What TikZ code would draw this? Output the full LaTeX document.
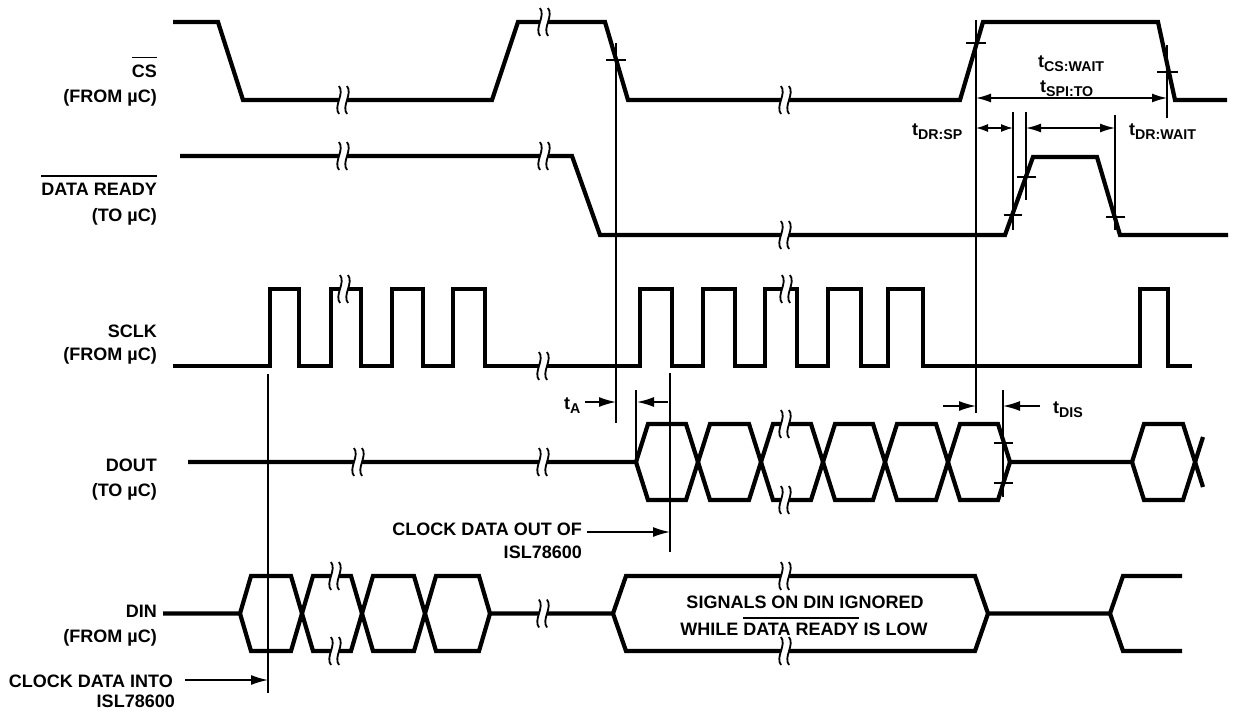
\documentclass[tikz,border=0pt]{standalone}
\usepackage{fontspec}
\setmainfont{Liberation Sans}
\usetikzlibrary{arrows.meta}
\newcommand\tsub[1]{t\raisebox{-4pt}{\fontsize{14.2}{15}\selectfont #1}}
\newcommand\ovl[2][6pt]{\vbox{\hrule height 1.8pt\kern#1\hbox{#2}}}
\begin{document}
\begin{tikzpicture}[x=1pt,y=-1pt,
  sig/.style={line width=4.2pt, line join=miter, miter limit=10},
  thinl/.style={line width=1.5pt},
  dimarrow/.style={line width=1.5pt, -{Latex[length=17pt,width=10pt]}},
  dimboth/.style={line width=1.5pt, {Latex[length=15pt,width=9pt]}-{Latex[length=15pt,width=9pt]}},
  dimshort/.style={line width=1.5pt, {Latex[length=12pt,width=8pt]}-{Latex[length=12pt,width=8pt]}},
  lbl/.style={font=\bfseries\fontsize{18}{20}\selectfont, inner sep=0pt},
  brk/.pic={
    \fill[white] (-4,-14) .. controls (2,-6) and (-10,6) .. (-4,14) -- (4,14) .. controls (-2,6) and (10,-6) .. (4,-14) -- cycle;
    \draw[line width=1.8pt] (-4,-14) .. controls (2,-6) and (-10,6) .. (-4,14);
    \draw[line width=1.8pt] (4,-14) .. controls (10,-6) and (-2,6) .. (4,14);
  }]
\useasboundingbox (0,0) rectangle (1235,710);

% ---------- CS ----------
\draw[sig] (173,22) -- (218,22) -- (243,100) -- (492,100) -- (518,22) -- (605,22) -- (628,100) -- (960,100) -- (983,22) -- (1158,22) -- (1175,100) -- (1227,100);
\pic at (343,100) {brk};
\pic at (544,22) {brk};
\pic at (785,100) {brk};

% ---------- DATA READY ----------
\draw[sig] (180,156) -- (572,156) -- (600,235) -- (1005,235) -- (1033,157) -- (1097,157) -- (1120,235) -- (1228,235);
\pic at (343,156) {brk};
\pic at (544,156) {brk};
\pic at (785,235) {brk};

% ---------- SCLK ----------
\draw[sig] (173,366) -- (270,366) -- (270,289) -- (299,289) -- (299,366) -- (331,366) -- (331,289) -- (361,289) -- (361,366) -- (392,366) -- (392,289) -- (423,289) -- (423,366) -- (453,366) -- (453,289) -- (485,289) -- (485,366) -- (640,366) -- (640,289) -- (672,289) -- (672,366) -- (703,366) -- (703,289) -- (735,289) -- (735,366) -- (765,366) -- (765,289) -- (797,289) -- (797,366) -- (828,366) -- (828,289) -- (861,289) -- (861,366) -- (888,366) -- (888,289) -- (923,289) -- (923,366) -- (1140,366) -- (1140,289) -- (1168,289) -- (1168,366) -- (1192,366);
\pic at (344,289) {brk};
\pic at (543,366) {brk};
\pic at (786,289) {brk};

% ---------- DOUT ----------
\draw[sig] (188,462) -- (636,462) -- (648,424) -- (686,424) -- (710,500) -- (749,500) -- (773,424) -- (811,424) -- (835,500) -- (873,500) -- (897,424) -- (936,424) -- (960,500) -- (998,500) -- (1010,462) -- (1132,462) -- (1144,424) -- (1183,424) -- (1203,487);
\draw[sig] (636,462) -- (648,500) -- (686,500) -- (710,424) -- (749,424) -- (773,500) -- (811,500) -- (835,424) -- (873,424) -- (897,500) -- (936,500) -- (960,424) -- (998,424) -- (1010,462);
\draw[sig] (1132,462) -- (1144,500) -- (1183,500) -- (1203,437);
\pic at (358,462) {brk};
\pic at (543,462) {brk};
\pic at (785,424) {brk};
\pic at (785,500) {brk};

% ---------- DIN ----------
\draw[sig] (163,613.5) -- (240,613.5) -- (251,576) -- (291,576) -- (313,651) -- (351,651) -- (373,576) -- (414,576) -- (436,651) -- (479,651) -- (490,613.5) -- (613,613.5) -- (626,576) -- (975,576) -- (988,613.5) -- (1110,613.5) -- (1123,576) -- (1182,576);
\draw[sig] (240,613.5) -- (251,651) -- (291,651) -- (313,576) -- (351,576) -- (373,651) -- (414,651) -- (436,576) -- (479,576) -- (490,613.5);
\draw[sig] (613,613.5) -- (626,651) -- (975,651) -- (988,613.5);
\draw[sig] (1110,613.5) -- (1123,651) -- (1182,651);
\pic at (335,576) {brk};
\pic at (335,651) {brk};
\pic at (543,613.5) {brk};
\pic at (785,576) {brk};
\pic at (785,651) {brk};

% ---------- reference lines ----------
\draw[thinl] (268,374) -- (268,693);
\draw[thinl] (616,43) -- (616,423);
\draw[thinl] (636,390) -- (636,462);
\draw[thinl] (670,373) -- (670,552);
\draw[thinl] (976,20) -- (976,413);
\draw[thinl] (1003,390) -- (1003,497);
\draw[thinl] (1167,45) -- (1167,118);
\draw[thinl] (1013,112) -- (1013,230);
\draw[thinl] (1026,112) -- (1026,200);
\draw[thinl] (1115,115) -- (1115,230);

% ticks
\draw[thinl] (606,60) -- (626,60);
\draw[thinl] (966,43) -- (986,43);
\draw[thinl] (1157,72) -- (1178,72);
\draw[thinl] (1004,215) -- (1022,215);
\draw[thinl] (1017,177) -- (1036,177);
\draw[thinl] (1106,217) -- (1125,217);
\draw[thinl] (994,443) -- (1013,443);
\draw[thinl] (994,483) -- (1013,483);

% ---------- dimension arrows ----------
\draw[dimboth] (976,98) -- (1167,98);
\draw[dimshort] (976,128) -- (1013,128);
\draw[dimboth] (1026,128) -- (1115,128);
\draw[dimarrow] (585,402) -- (616,402);
\draw[dimarrow] (668,402) -- (637,402);
\draw[dimarrow] (943,406) -- (976,406);
\draw[dimarrow] (1040,406) -- (1003,406);
\draw[dimarrow] (587,532) -- (670,532);
\draw[dimarrow] (185,680) -- (268,680);

% ---------- labels ----------
\node[lbl, anchor=base east] (csl) at (157,77) {\ovl{CS}};
\node[lbl, anchor=base east] (csf) at (157,102) {(FROM µC)};
\node[lbl, anchor=base east] (drl) at (157,195) {\ovl{DATA READY}};
\node[lbl, anchor=base east] (drt) at (157,221) {(TO µC)};
\node[lbl, anchor=base east] (skl) at (157,337) {SCLK};
\node[lbl, anchor=base east] (skf) at (157,360) {(FROM µC)};
\node[lbl, anchor=base east] (dol) at (157,471) {DOUT};
\node[lbl, anchor=base east] (dot) at (157,496) {(TO µC)};
\node[lbl, anchor=base east] (dil) at (157,617) {DIN};
\node[lbl, anchor=base east] (dif) at (157,642) {(FROM µC)};
\node[lbl, anchor=base east] (cdi) at (173,687) {CLOCK DATA INTO};
\node[lbl, anchor=base east] (cdi2) at (175,707) {ISL78600};
\node[lbl, anchor=base east] (cdo) at (582,535) {CLOCK DATA OUT OF};
\node[lbl, anchor=base east] (cdo2) at (582,558) {ISL78600};
\node[lbl, anchor=base] (sig1) at (805,608) {SIGNALS ON DIN IGNORED};
\node[lbl, anchor=base] (sig2) at (804,635) {WHILE \ovl[4pt]{DATA READY} IS LOW};
\node[lbl, anchor=base west] (ta) at (564,409) {\tsub{A}};
\node[lbl, anchor=base west] (tcs) at (1038,67) {\tsub{CS:WAIT}};
\node[lbl, anchor=base west] (tspi) at (1040,92) {\tsub{SPI:TO}};
\node[lbl, anchor=base west] (tdrsp) at (912,135) {\tsub{DR:SP}};
\node[lbl, anchor=base west] (tdrw) at (1129,135) {\tsub{DR:WAIT}};
\node[lbl, anchor=base west] (tdis) at (1053,413) {\tsub{DIS}};
\end{tikzpicture}
\end{document}
